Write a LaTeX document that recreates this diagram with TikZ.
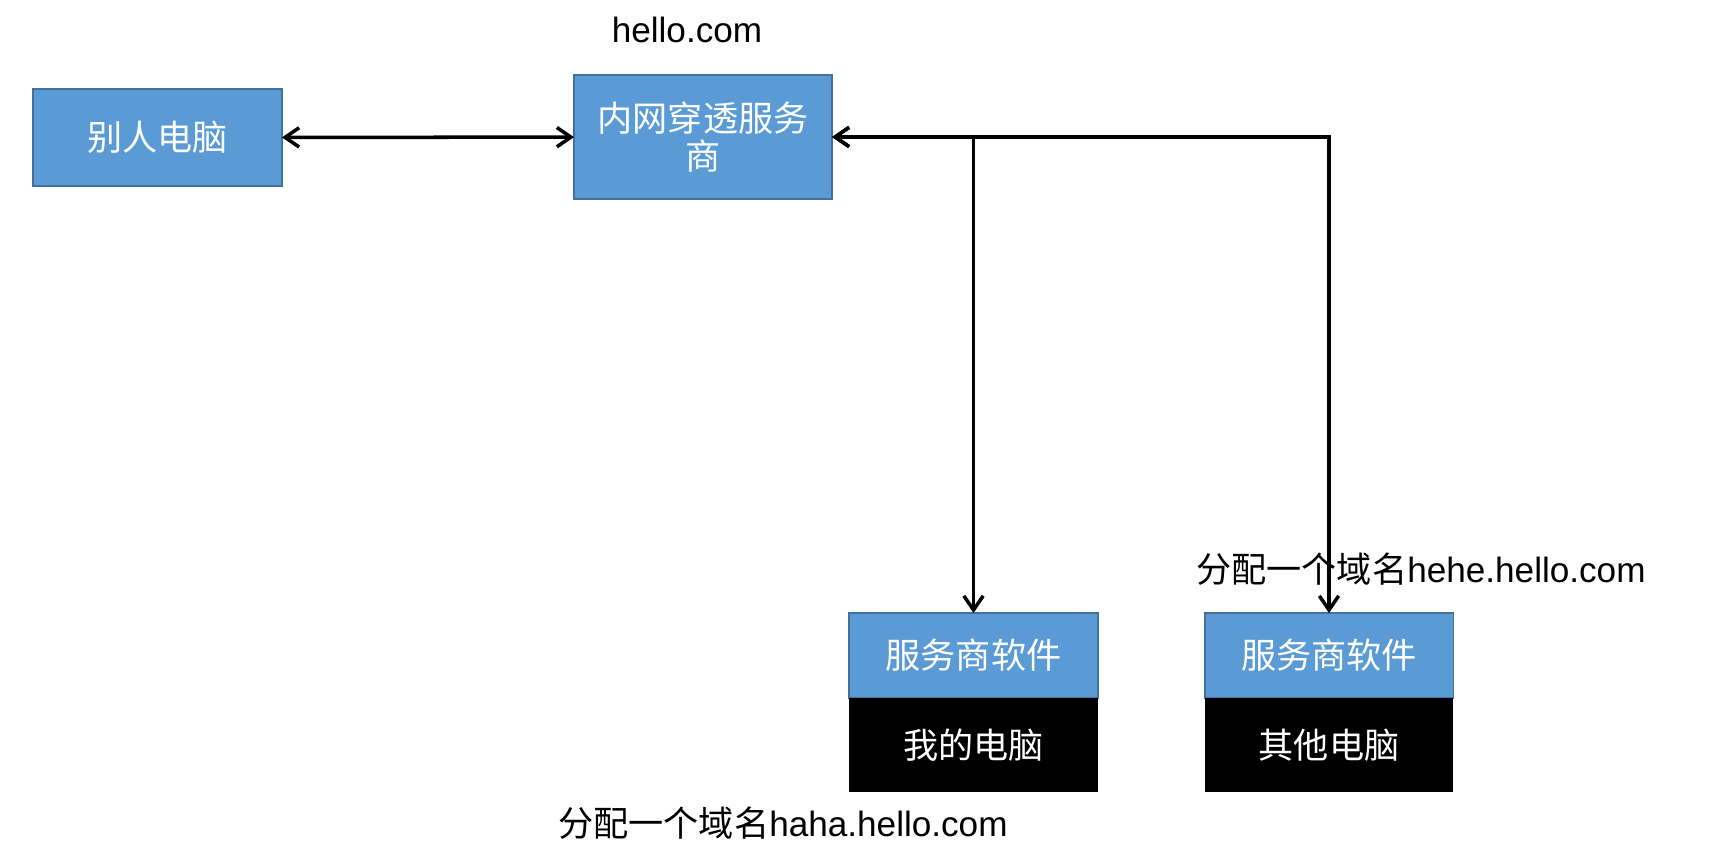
\documentclass[tikz,border=0pt]{standalone}
\usepackage{fontspec}
\setmainfont{Liberation Sans}
\newfontfamily\cjk{Noto Sans CJK SC}
\usepackage{tikz}
\usetikzlibrary{arrows.meta,positioning}
\definecolor{boxblue}{HTML}{5B9BD5}
\definecolor{boxedge}{HTML}{41719C}
\tikzset{
 net box/.style={draw=boxedge,fill=boxblue,line width=1.1pt,text=white,
                 font=\cjk\fontsize{20}{24}\selectfont,align=center,
                 inner sep=0pt,outer sep=0pt},
 pc box/.style={fill=black,text=white,font=\cjk\fontsize{20}{24}\selectfont,
                inner sep=0pt,outer sep=0pt,
                minimum width=4.98cm,minimum height=1.88cm},
 net link/.style={line width=2pt,{Straight Barb[length=8pt,width=11pt]}-{Straight Barb[length=8pt,width=11pt]}},
 domain label/.style={font=\fontsize{20}{24}\selectfont,inner sep=0pt}
}

\begin{document}
\begin{tikzpicture}[x=0.02cm,y=-0.02cm]
 \useasboundingbox (0,0) rectangle (1723,860);

 \node[net box,minimum width=4.98cm,minimum height=1.94cm] (other) at (157.5,137.5) {别人电脑};
 \node[net box,minimum width=5.16cm,minimum height=2.48cm] (tunnel) at (703,137) {内网穿透服务\\[-2pt]商};

 \node[net box,minimum width=4.98cm,minimum height=1.7cm] (soft1) at (973.5,655.5) {服务商软件};
 \node[pc box,below=0pt of soft1] (pc1) {我的电脑};
 \node[net box,minimum width=4.98cm,minimum height=1.7cm] (soft2) at (1329,655.5) {服务商软件};
 \node[pc box,below=0pt of soft2] (pc2) {其他电脑};

 \draw[net link] (other) -- (tunnel);
 \draw[net link] (tunnel.east) -| (soft1.north);
 \draw[net link] (tunnel.east) -| (soft2.north);

 \node[domain label] (main) at (687,30) {hello.com};
 \node[domain label] (hehe) at (1421,569) {{\cjk 分配一个域名}hehe.hello.com};
 \node[domain label] (haha) at (783,823) {{\cjk 分配一个域名}haha.hello.com};
\end{tikzpicture}
\end{document}
